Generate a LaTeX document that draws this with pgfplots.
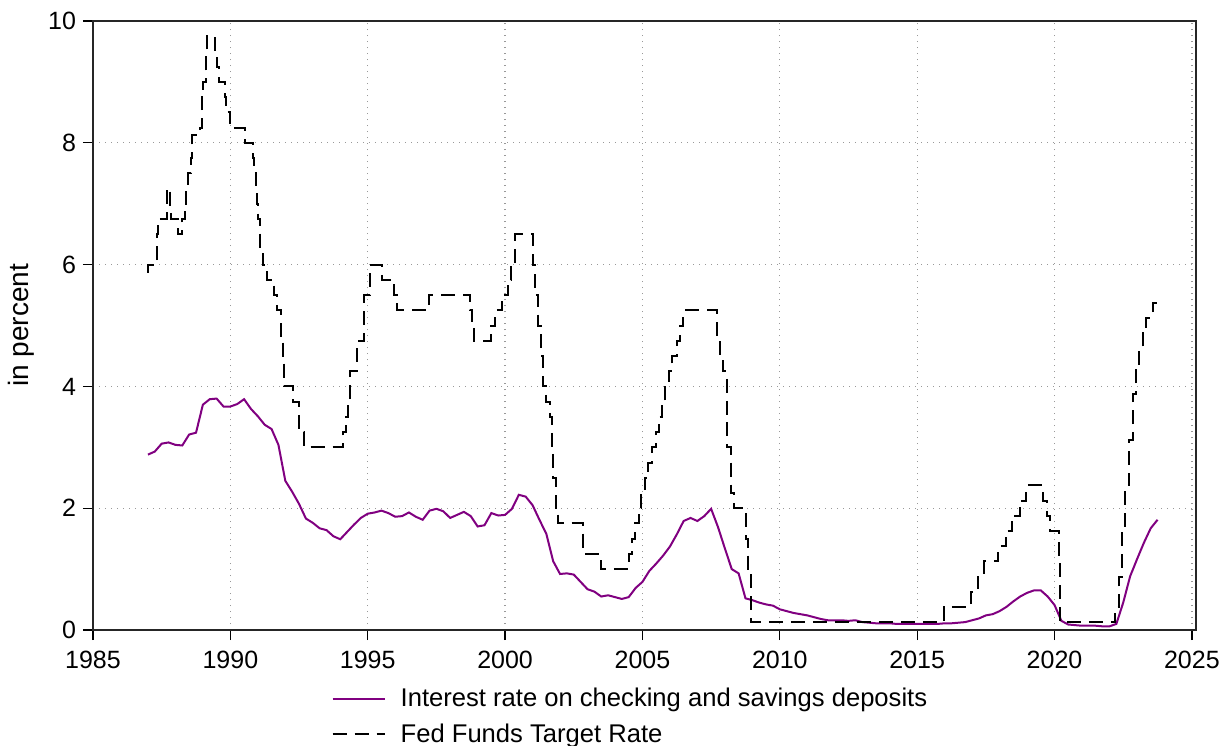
\documentclass[border=0pt]{standalone}
\usepackage{pgfplots}
\pgfplotsset{compat=1.18}
\usepackage{fontspec}
\setmainfont{Liberation Sans}

\definecolor{deposit}{RGB}{128,0,128}

\begin{document}
\begin{tikzpicture}
\begin{axis}[
  scale only axis,
  width=551.5pt, height=304.5pt,
  at={(46.5pt,57.5pt)}, anchor=south west,
  xmin=1985, xmax=2025.15,
  ymin=0, ymax=10,
  xtick={1985,1990,...,2025},
  ytick={0,2,...,10},
  tick pos=left,
  tick align=outside,
  major tick length=5pt,
  tick style={black, line width=0.6pt},
  axis line style={black!85, line width=0.7pt},
  grid=major,
  major grid style={gray!80, line width=0.6pt, dash pattern=on 0.6pt off 2.4pt},
  /pgf/number format/assume math mode=true,
  /pgf/number format/1000 sep={},
  ticklabel style={font=\fontsize{12.5}{14}\selectfont},
  xticklabel style={yshift=-2pt},
  yticklabel style={xshift=0pt},
  ylabel={in percent},
  every axis y label/.style={at={(axis description cs:-0.0653,0.5)}, rotate=90, anchor=center,
    font=\fontsize{14}{16}\selectfont},
  legend cell align=left,
  legend style={draw=none, fill=none, font=\fontsize{12.8}{15}\selectfont,
    at={(axis description cs:0.216,-0.142)}, anchor=west,
    row sep=3pt, inner sep=0pt},
  legend image code/.code={\draw[#1] (0pt,0pt) -- (26pt,0pt); \path (31.5pt,0pt);},
]
% quarterly rate paid on checking and savings deposits
\addplot[deposit, line width=1pt] table {
1987.00 2.88
1987.25 2.93
1987.50 3.06
1987.75 3.08
1988.00 3.04
1988.25 3.03
1988.50 3.21
1988.75 3.24
1989.00 3.70
1989.25 3.79
1989.50 3.80
1989.75 3.67
1990.00 3.67
1990.25 3.71
1990.50 3.79
1990.75 3.63
1991.00 3.51
1991.25 3.37
1991.50 3.30
1991.75 3.04
1992.00 2.45
1992.25 2.27
1992.50 2.07
1992.75 1.83
1993.00 1.76
1993.25 1.67
1993.50 1.64
1993.75 1.54
1994.00 1.49
1994.25 1.61
1994.50 1.73
1994.75 1.84
1995.00 1.91
1995.25 1.93
1995.50 1.96
1995.75 1.92
1996.00 1.86
1996.25 1.87
1996.50 1.93
1996.75 1.86
1997.00 1.81
1997.25 1.96
1997.50 1.99
1997.75 1.95
1998.00 1.84
1998.25 1.89
1998.50 1.94
1998.75 1.87
1999.00 1.70
1999.25 1.72
1999.50 1.92
1999.75 1.88
2000.00 1.89
2000.25 1.99
2000.50 2.22
2000.75 2.19
2001.00 2.05
2001.25 1.81
2001.50 1.58
2001.75 1.13
2002.00 0.92
2002.25 0.93
2002.50 0.91
2002.75 0.79
2003.00 0.67
2003.25 0.63
2003.50 0.55
2003.75 0.57
2004.00 0.54
2004.25 0.51
2004.50 0.54
2004.75 0.69
2005.00 0.79
2005.25 0.97
2005.50 1.09
2005.75 1.22
2006.00 1.37
2006.25 1.57
2006.50 1.79
2006.75 1.84
2007.00 1.79
2007.25 1.87
2007.50 1.99
2007.75 1.69
2008.00 1.34
2008.25 1.00
2008.50 0.93
2008.75 0.52
2009.00 0.49
2009.25 0.45
2009.50 0.42
2009.75 0.40
2010.00 0.34
2010.25 0.31
2010.50 0.28
2010.75 0.26
2011.00 0.24
2011.25 0.21
2011.50 0.18
2011.75 0.16
2012.00 0.16
2012.25 0.16
2012.50 0.15
2012.75 0.16
2013.00 0.13
2013.25 0.12
2013.50 0.11
2013.75 0.11
2014.00 0.11
2014.25 0.10
2014.50 0.10
2014.75 0.10
2015.00 0.10
2015.25 0.10
2015.50 0.10
2015.75 0.10
2016.00 0.11
2016.25 0.11
2016.50 0.12
2016.75 0.13
2017.00 0.16
2017.25 0.19
2017.50 0.24
2017.75 0.26
2018.00 0.31
2018.25 0.38
2018.50 0.47
2018.75 0.55
2019.00 0.61
2019.25 0.65
2019.50 0.65
2019.75 0.55
2020.00 0.41
2020.25 0.15
2020.50 0.09
2020.75 0.08
2021.00 0.07
2021.25 0.07
2021.50 0.07
2021.75 0.06
2022.00 0.06
2022.25 0.10
2022.50 0.45
2022.75 0.88
2023.00 1.16
2023.25 1.43
2023.50 1.67
2023.75 1.81
};
\addlegendentry{Interest rate on checking and savings deposits}

% federal funds target rate (midpoint of the range after 2008), held until the next change
\addplot[black, line width=1pt, dash pattern=on 7pt off 4pt, const plot] table {
1986.97 5.875
1987.00 6.0
1987.33 6.5
1987.38 6.75
1987.68 7.25
1987.81 6.875
1987.84 6.75
1988.08 6.5
1988.24 6.75
1988.35 7.0
1988.40 7.25
1988.47 7.5
1988.55 7.75
1988.60 8.125
1988.88 8.25
1988.96 8.75
1989.01 9.0
1989.11 9.5
1989.15 9.75
1989.43 9.5
1989.51 9.25
1989.57 9.0
1989.80 8.75
1989.85 8.5
1989.97 8.25
1990.53 8.0
1990.82 7.75
1990.87 7.5
1990.93 7.25
1990.96 7.0
1991.02 6.75
1991.09 6.25
1991.18 6.0
1991.33 5.75
1991.60 5.5
1991.70 5.25
1991.83 5.0
1991.85 4.75
1991.93 4.5
1991.97 4.0
1992.27 3.75
1992.50 3.25
1992.68 3.0
1994.09 3.25
1994.22 3.5
1994.29 3.75
1994.37 4.25
1994.62 4.75
1994.87 5.5
1995.08 6.0
1995.51 5.75
1995.97 5.5
1996.08 5.25
1997.23 5.5
1998.74 5.25
1998.79 5.0
1998.88 4.75
1999.49 5.0
1999.65 5.25
1999.87 5.5
2000.09 5.75
2000.22 6.0
2000.37 6.5
2001.01 6.0
2001.08 5.5
2001.21 5.0
2001.29 4.5
2001.37 4.0
2001.49 3.75
2001.64 3.5
2001.71 3.0
2001.75 2.5
2001.85 2.0
2001.94 1.75
2002.85 1.25
2003.48 1.0
2004.50 1.25
2004.61 1.5
2004.72 1.75
2004.86 2.0
2004.95 2.25
2005.09 2.5
2005.22 2.75
2005.34 3.0
2005.49 3.25
2005.61 3.5
2005.72 3.75
2005.83 4.0
2005.95 4.25
2006.08 4.5
2006.24 4.75
2006.36 5.0
2006.49 5.25
2007.71 4.75
2007.83 4.5
2007.94 4.25
2008.06 3.5
2008.08 3.0
2008.21 2.25
2008.33 2.0
2008.77 1.5
2008.83 1.0
2008.96 0.125
2015.96 0.375
2016.95 0.625
2017.20 0.875
2017.45 1.125
2017.95 1.375
2018.22 1.625
2018.45 1.875
2018.74 2.125
2018.97 2.375
2019.58 2.125
2019.71 1.875
2019.83 1.625
2020.17 1.125
2020.21 0.125
2022.21 0.375
2022.34 0.875
2022.46 1.625
2022.57 2.375
2022.72 3.125
2022.84 3.875
2022.95 4.375
2023.09 4.625
2023.22 4.875
2023.34 5.125
2023.57 5.375
2023.93 5.375
};
\addlegendentry{Fed Funds Target Rate}
\end{axis}
\pgfresetboundingbox
\useasboundingbox (0pt,0pt) rectangle (612pt,372.5pt);
\end{tikzpicture}
\end{document}
